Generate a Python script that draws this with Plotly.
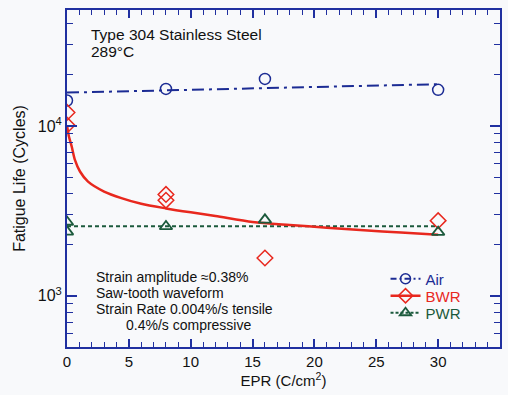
import plotly.graph_objects as go
import math

# ---- data ----
air_x = [0, 8, 16, 30]
air_y = [14100, 16500, 18900, 16300]
air_fit_x = [0, 30]
air_fit_y = [15700, 17600]

bwr_x = [0, 0, 8, 8, 16, 30]
bwr_y = [12000, 10100, 3950, 3650, 1670, 2770]
bwr_fit_x = [0, 0.15, 0.38, 0.64, 1.05, 1.7, 3.0, 4.4, 6.0, 8.0, 10, 12, 15, 18, 21, 24, 27, 30]
bwr_fit_y = [10100, 8700, 7560, 6310, 5390, 4700, 4110, 3760, 3480, 3270, 3100, 2950, 2720, 2610, 2520, 2430, 2360, 2290]

pwr_x = [0, 0, 8, 16, 30]
pwr_y = [2720, 2380, 2560, 2800, 2370]
pwr_fit_x = [0, 30]
pwr_fit_y = [2570, 2570]

x_ticks = [0, 5, 10, 15, 20, 25, 30, 35]
y_ticks = [1000, 10000]
y_tick_text = ["10<sup>3</sup>", "10<sup>4</sup>"]

BLUE = "#1c2c94"
RED = "#e8281e"
GREEN = "#1b5a3c"
AXIS = "#2030a0"
FONT = "Liberation Sans, Arial, sans-serif"

L, R, T, B = 67, 6, 10, 48
W, H = 508, 395
pw, ph = W - L - R, H - T - B

def px(xp):
    return (xp - L) / pw

def py(yp):
    return (H - B - yp) / ph

fig = go.Figure()

# fit lines
fig.add_trace(go.Scatter(x=air_fit_x, y=air_fit_y, mode="lines",
                         line=dict(color=BLUE, width=2, dash="12px,5px,3px,5px"), showlegend=False))
fig.add_trace(go.Scatter(x=pwr_fit_x, y=pwr_fit_y, mode="lines",
                         line=dict(color=GREEN, width=2, dash="4px,3px"), showlegend=False))
fig.add_trace(go.Scatter(x=bwr_fit_x, y=bwr_fit_y, mode="lines", line_shape="spline",
                         line=dict(color=RED, width=2.5, smoothing=0.8), showlegend=False))

# points
fig.add_trace(go.Scatter(x=air_x, y=air_y, mode="markers",
                         marker=dict(symbol="circle-open", size=11, color=BLUE, line=dict(width=1.5)),
                         showlegend=False))
fig.add_trace(go.Scatter(x=bwr_x, y=bwr_y, mode="markers",
                         marker=dict(symbol="diamond-open", size=12, color=RED, line=dict(width=1.5)),
                         showlegend=False))
fig.add_trace(go.Scatter(x=pwr_x, y=pwr_y, mode="markers",
                         marker=dict(symbol="triangle-up-open", size=11, color=GREEN, line=dict(width=1.8)),
                         showlegend=False))

# legend entries (one legend each, to get the tight spacing)
fig.add_trace(go.Scatter(x=[None], y=[None], mode="lines+markers", legend="legend",
                         name="<span style='color:%s'>Air</span>" % BLUE,
                         line=dict(color=BLUE, width=2, dash="6px,3px,2px,3px"),
                         marker=dict(symbol="circle-open", size=10, color=BLUE, line=dict(width=1.5))))
fig.add_trace(go.Scatter(x=[None], y=[None], mode="lines+markers", legend="legend2",
                         name="<span style='color:%s'>BWR</span>" % RED,
                         line=dict(color=RED, width=2.5),
                         marker=dict(symbol="diamond-open", size=11, color=RED, line=dict(width=1.5))))
fig.add_trace(go.Scatter(x=[None], y=[None], mode="lines+markers", legend="legend3",
                         name="<span style='color:%s'>PWR</span>" % GREEN,
                         line=dict(color=GREEN, width=2, dash="3px,2px"),
                         marker=dict(symbol="triangle-up-open", size=10, color=GREEN, line=dict(width=1.8))))

def leg(ypix):
    return dict(x=px(387), y=py(ypix), xanchor="left", yanchor="middle", bgcolor="rgba(0,0,0,0)",
                font=dict(size=15, family=FONT), itemwidth=30)

ann = [
    ("Type 304 Stainless Steel", 89, 34, 15.5),
    ("289°C", 89, 52, 15.5),
    ("Strain amplitude ≈0.38%", 94, 277, 14),
    ("Saw-tooth waveform", 94, 293, 14),
    ("Strain Rate 0.004%/s tensile", 94, 309, 14),
    ("0.4%/s compressive", 124, 325, 14),
]
annotations = [dict(text=t, x=px(x0), y=py(y0), xref="paper", yref="paper", xanchor="left",
                    yanchor="middle", showarrow=False, font=dict(size=s, color="#111", family=FONT))
               for t, x0, y0, s in ann]

fig.update_layout(
    width=W, height=H,
    margin=dict(l=L, r=R, t=T, b=B),
    paper_bgcolor="#f8f9fb", plot_bgcolor="#f8f9fb",
    font=dict(family=FONT, size=15, color="#111"),
    annotations=annotations,
    legend=leg(279), legend2=leg(296), legend3=leg(313),
    xaxis=dict(range=[0, 35], tickvals=x_ticks, ticks="inside", ticklen=8, tickwidth=1.5, tickcolor=AXIS,
               showline=True, linecolor=AXIS, linewidth=2, mirror="allticks", showgrid=False, zeroline=False,
               minor=dict(dtick=1, ticks="inside", ticklen=5, tickwidth=1.2, tickcolor=AXIS, showgrid=False),
               title=dict(text="EPR (C/cm<sup>2</sup>)", standoff=5, font=dict(size=15)),
               tickfont=dict(size=15)),
    yaxis=dict(type="log", range=[math.log10(500), 4.682], tickvals=y_ticks, ticktext=y_tick_text,
               ticks="inside", ticklen=10, tickwidth=1.5, tickcolor=AXIS,
               showline=True, linecolor=AXIS, linewidth=2, mirror="allticks", showgrid=False, zeroline=False,
               minor=dict(tickvals=[600, 700, 800, 900, 2000, 3000, 4000, 5000, 6000, 7000, 8000, 9000,
                                    20000, 30000, 40000],
                          ticks="inside", ticklen=6, tickwidth=1.2, tickcolor=AXIS, showgrid=False),
               title=dict(text="Fatigue Life (Cycles)", standoff=8, font=dict(size=16)),
               tickfont=dict(size=16)),
)

fig.write_html("out.html")
